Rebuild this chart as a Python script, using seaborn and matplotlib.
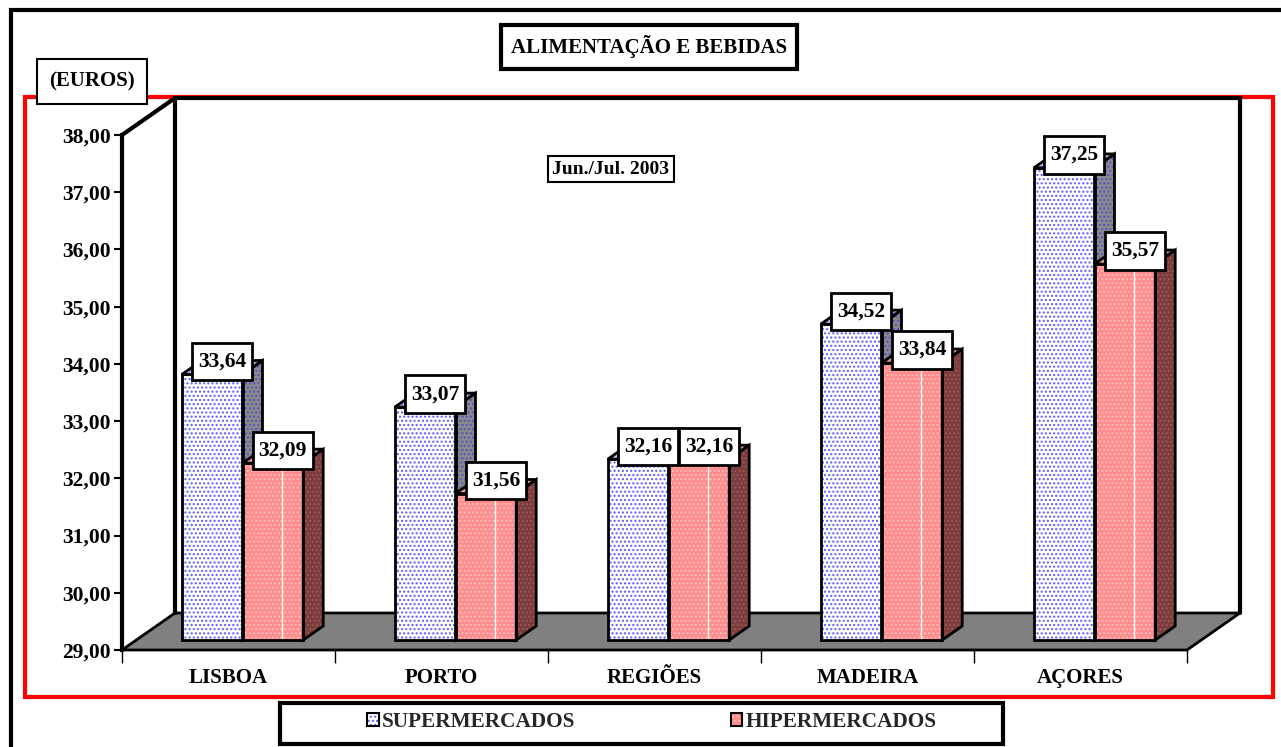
import numpy as np
import pandas as pd
import matplotlib
matplotlib.use("Agg")
import matplotlib.pyplot as plt
import seaborn as sns
from matplotlib.patches import Polygon, Rectangle, Patch
from matplotlib.path import Path
from matplotlib.ticker import FuncFormatter

# ---------------- data ----------------
regions = ["LISBOA", "PORTO", "REGIÕES", "MADEIRA", "AÇORES"]
series = ["SUPERMERCADOS", "HIPERMERCADOS"]
supermercados = [33.64, 33.07, 32.16, 34.52, 37.25]
hipermercados = [32.09, 31.56, 32.16, 33.84, 35.57]
y_ticks = [29, 30, 31, 32, 33, 34, 35, 36, 37, 38]
title = "ALIMENTAÇÃO E BEBIDAS"
unit_label = "(EUROS)"
period_label = "Jun./Jul. 2003"

# ---------------- style ----------------
W, H, DPI = 1281, 747, 100
sns.set_theme(style="white")
plt.rcParams["font.family"] = ["Liberation Serif", "DejaVu Serif"]
plt.rcParams["font.weight"] = "bold"
plt.rcParams["hatch.linewidth"] = 1.0

front_fill = {series[0]: "#ffffff", series[1]: "#ff8c8c"}
front_hatch = {series[0]: "#5a5aff", series[1]: "#ffbcbc"}
side_fill = {series[0]: "#8a8a8a", series[1]: "#7c3c3c"}
side_hatch = {series[0]: "#5050d0", series[1]: "#9a5858"}
top_fill = {series[0]: "#c4c4e8", series[1]: "#f09090"}
top_hatch = {series[0]: "#6a6aff", series[1]: "#ffb0b0"}

fig = plt.figure(figsize=(W / DPI, H / DPI), dpi=DPI)
fig.patch.set_facecolor("white")


def fx(px):
    return px / W


def fy(py):
    return 1 - py / H


def tall_box(x0, y0, width, height, mutation_size, padx=0.28, pady=0.4):
    px, py = padx * mutation_size, pady * mutation_size
    xa, xb = x0 - px, x0 + width + px
    ya, yb = y0 - py, y0 + height + py
    return Path([(xa, ya), (xb, ya), (xb, yb), (xa, yb), (xa, ya)],
                [Path.MOVETO, Path.LINETO, Path.LINETO, Path.LINETO,
                 Path.CLOSEPOLY])


AX_L, AX_R, AX_T, AX_B = 122, 1187, 135, 650
ax = fig.add_axes([fx(AX_L), fy(AX_B), (AX_R - AX_L) / W, (AX_B - AX_T) / H])
ax.set_facecolor("none")

df = pd.DataFrame({
    "region": regions * 2,
    "type": [series[0]] * len(regions) + [series[1]] * len(regions),
    "value": supermercados + hipermercados,
})

sns.barplot(data=df, x="region", y="value", hue="type", order=regions,
            hue_order=series, palette=front_fill, width=0.57, dodge=True,
            errorbar=None, saturation=1, legend=False, ax=ax)

y0, y1 = y_ticks[0], y_ticks[-1]
ax.set_xlim(-0.5, len(regions) - 0.5)
ax.set_ylim(y0, y1)

sx = (AX_R - AX_L) / len(regions)   # px per x unit
sy = (AX_B - AX_T) / (y1 - y0)       # px per y unit


def dxp(px):
    return px / sx


def dyp(px):
    return px / sy


SHIFT = (dxp(14), dyp(10))     # bar plane offset from front plane
DEPTH = (dxp(20), dyp(14))     # bar depth
WALL = (dxp(53), dyp(37))      # floor / wall depth

# ---------------- floor and walls ----------------
xl, xr = -0.5, len(regions) - 0.5
floor = Polygon([(xl, y0), (xr, y0), (xr + WALL[0], y0 + WALL[1]),
                 (xl + WALL[0], y0 + WALL[1])], closed=True,
                facecolor="#808080", edgecolor="black", lw=2,
                zorder=1, clip_on=False)
ax.add_patch(floor)
ax.plot([xl + WALL[0], xl + WALL[0], xr + WALL[0], xr + WALL[0]],
        [y0 + WALL[1], y1 + WALL[1], y1 + WALL[1], y0 + WALL[1]],
        color="black", lw=3, zorder=2, clip_on=False, solid_joinstyle="miter")
ax.plot([xl, xl + WALL[0]], [y1, y1 + WALL[1]], color="black", lw=3,
        zorder=2, clip_on=False)

# ---------------- 3D bars ----------------
bars = list(ax.patches)
for p in bars:
    if p is floor:
        continue
    v = p.get_height()
    w = p.get_width()
    cx = p.get_x() + w / 2
    idx = int(round(cx))
    s = series[0] if cx < idx else series[1]
    zb = 3 + idx * 10 + (0 if s == series[0] else 5)
    x0 = p.get_x() + SHIFT[0]
    x1 = x0 + w
    b = y0 + SHIFT[1]
    t = v + SHIFT[1]
    p.set_x(x0)
    p.set_y(b)
    p.set_height(v - y0)
    p.set_facecolor(front_fill[s])
    p.set_edgecolor(front_hatch[s])
    p.set_hatch("....")
    p.set_linewidth(0)
    p.set_zorder(zb)
    p.set_clip_on(False)
    side = [(x1, b), (x1 + DEPTH[0], b + DEPTH[1]),
            (x1 + DEPTH[0], t + DEPTH[1]), (x1, t)]
    top = [(x0, t), (x1, t), (x1 + DEPTH[0], t + DEPTH[1]),
           (x0 + DEPTH[0], t + DEPTH[1])]
    front = [(x0, b), (x1, b), (x1, t), (x0, t)]
    ax.add_patch(Polygon(side, closed=True, facecolor=side_fill[s],
                         edgecolor=side_hatch[s], hatch="....", lw=0,
                         zorder=zb + 1, clip_on=False))
    ax.add_patch(Polygon(top, closed=True, facecolor=top_fill[s],
                         edgecolor=top_hatch[s], hatch="....", lw=0,
                         zorder=zb + 1, clip_on=False))
    if s == series[1]:
        xw = x0 + 0.65 * w
        ax.plot([xw, xw], [b, t], color="white", lw=1, zorder=zb + 1,
                clip_on=False)
    for poly in (front, side, top):
        ax.add_patch(Polygon(poly, closed=True, fill=False,
                             edgecolor="black", lw=2, zorder=zb + 2,
                             clip_on=False, joinstyle="miter"))
    ax.annotate(f"{v:.2f}".replace(".", ","),
                xy=(x0 + w / 2, t), xytext=(10 * 72 / DPI, 13 * 72 / DPI),
                textcoords="offset points", ha="center", va="center",
                fontsize=15.5, fontweight="bold", color="black",
                zorder=200, annotation_clip=False,
                bbox=dict(boxstyle=tall_box, facecolor="white",
                          edgecolor="black", lw=2))

# ---------------- axes ----------------
for side_name in ["top", "right", "bottom"]:
    ax.spines[side_name].set_visible(False)
ax.spines["left"].set_color("black")
ax.spines["left"].set_linewidth(3)
ax.spines["left"].set_zorder(150)
ax.set_yticks(y_ticks)
ax.yaxis.set_major_formatter(FuncFormatter(lambda v, _: f"{v:.2f}".replace(".", ",")))
ax.tick_params(axis="y", left=True, direction="out", length=6, width=1.5,
               color="black", labelsize=15.5, pad=2, labelcolor="black")
ax.set_xticks(np.arange(-0.5, len(regions), 1.0), minor=True)
ax.tick_params(axis="x", which="major", bottom=True, length=0, labelsize=15,
               pad=13, labelcolor="black")
ax.tick_params(axis="x", which="minor", bottom=True, direction="out",
               length=9, width=1, color="black")
for lab in ax.get_xticklabels() + ax.get_yticklabels():
    lab.set_fontweight("bold")
ax.set_xlabel("")
ax.set_ylabel("")

# ---------------- frames and boxes ----------------
ax.add_patch(Rectangle((fx(11), fy(800)), 1.2, fy(10) - fy(800),
                       transform=fig.transFigure, fill=False,
                       edgecolor="black", lw=3, zorder=0, clip_on=False))
ax.add_patch(Rectangle((fx(25), fy(697)), fx(1273) - fx(25),
                       fy(97) - fy(697), transform=fig.transFigure,
                       fill=False, edgecolor="#ff0000", lw=3, zorder=0,
                       clip_on=False))

fig.text(fx(649), fy(47), title, ha="center", va="center", fontsize=15,
         fontweight="bold", color="black",
         bbox=dict(boxstyle="square,pad=0.5", facecolor="white",
                   edgecolor="black", lw=3))
fig.text(fx(92), fy(81), unit_label, ha="center", va="center", fontsize=15,
         fontweight="bold", color="black", zorder=300,
         bbox=dict(boxstyle="square,pad=0.6", facecolor="white",
                   edgecolor="black", lw=1.5))
fig.text(fx(611), fy(169), period_label, ha="center", va="center",
         fontsize=14, fontweight="bold", color="black",
         bbox=dict(boxstyle="square,pad=0.25", facecolor="white",
                   edgecolor="black", lw=1.5))

# ---------------- legend ----------------
ax.add_patch(Rectangle((fx(280), fy(744)), fx(1003) - fx(280),
                       fy(703) - fy(744), transform=fig.transFigure,
                       facecolor="white", edgecolor="black", lw=3,
                       zorder=0, clip_on=False))
handles = []
for s in series:
    handles.append((Patch(facecolor=front_fill[s], edgecolor=front_hatch[s],
                          hatch="....", lw=0),
                    Patch(fill=False, edgecolor="black", lw=1.5)))
ax.legend(handles, series, loc="center", bbox_to_anchor=(fx(652), fy(722)),
          bbox_transform=fig.transFigure, ncol=2, frameon=False,
          columnspacing=7.3, handlelength=0.55, handleheight=0.55,
          handletextpad=0.15, prop={"size": 15.3, "weight": "bold"})

fig.savefig("out.png", dpi=DPI, facecolor="white")
